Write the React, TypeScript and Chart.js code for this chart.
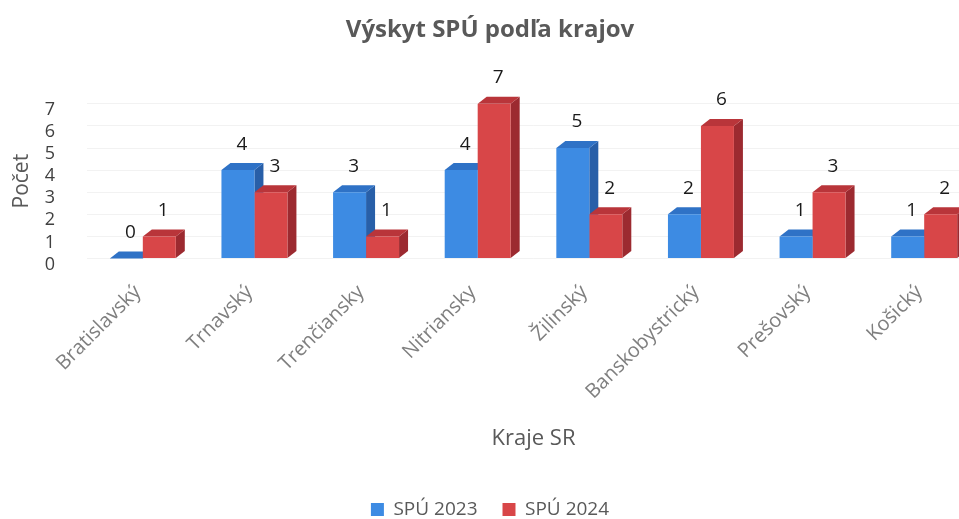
import { useEffect, useRef } from 'react';
import { Chart, registerables } from 'chart.js';

Chart.register(...registerables);

const categories = ['Bratislavský', 'Trnavský', 'Trenčiansky', 'Nitriansky', 'Žilinský', 'Banskobystrický', 'Prešovský', 'Košický'];
const spu2023 = [0, 4, 3, 4, 5, 2, 1, 1];
const spu2024 = [1, 3, 1, 7, 2, 6, 3, 2];
const yTicks = [0, 1, 2, 3, 4, 5, 6, 7];
const seriesNames = ['SPÚ 2023', 'SPÚ 2024'];

const frontColors = ['#3d8be3', '#d84648'];
const topColors = ['#2f72c6', '#b9353a'];
const sideColors = ['#285fa8', '#9c2a30'];

const FONT = '"Open Sans", sans-serif';

const bar3d = {
  id: 'bar3d',
  beforeDatasetsDraw(chart: any) {
    const ctx = chart.ctx;
    const dx = 9;
    const dy = 7;
    ctx.save();
    chart.data.datasets.forEach((_ds: any, di: number) => {
      const meta = chart.getDatasetMeta(di);
      meta.data.forEach((el: any) => {
        const { x, y, base, width } = el.getProps(['x', 'y', 'base', 'width'], true);
        const l = x - width / 2;
        const r = x + width / 2;
        ctx.fillStyle = sideColors[di];
        ctx.beginPath();
        ctx.moveTo(r, y);
        ctx.lineTo(r + dx, y - dy);
        ctx.lineTo(r + dx, base - dy);
        ctx.lineTo(r, base);
        ctx.closePath();
        ctx.fill();
        ctx.fillStyle = topColors[di];
        ctx.beginPath();
        ctx.moveTo(l, y);
        ctx.lineTo(l + dx, y - dy);
        ctx.lineTo(r + dx, y - dy);
        ctx.lineTo(r, y);
        ctx.closePath();
        ctx.fill();
      });
    });
    ctx.restore();
  },
  afterDatasetsDraw(chart: any) {
    const ctx = chart.ctx;
    ctx.save();
    ctx.font = `19px ${FONT}`;
    ctx.fillStyle = '#1a1a1a';
    ctx.textAlign = 'center';
    ctx.textBaseline = 'middle';
    chart.data.datasets.forEach((ds: any, di: number) => {
      const meta = chart.getDatasetMeta(di);
      meta.data.forEach((el: any, i: number) => {
        const { x, y } = el.getProps(['x', 'y'], true);
        ctx.fillText(String(ds.data[i]), x + 4, y - 26);
      });
    });
    ctx.restore();
  },
};

export default function App() {
  const ref = useRef<HTMLCanvasElement | null>(null);

  useEffect(() => {
    if (!ref.current) return;
    Chart.defaults.font.family = FONT;
    const chart = new Chart(ref.current, {
      type: 'bar',
      data: {
        labels: categories,
        datasets: [
          { label: seriesNames[0], data: spu2023, backgroundColor: frontColors[0], borderWidth: 0, categoryPercentage: 0.591, barPercentage: 1.0 },
          { label: seriesNames[1], data: spu2024, backgroundColor: frontColors[1], borderWidth: 0, categoryPercentage: 0.591, barPercentage: 1.0 },
        ],
      },
      options: {
        responsive: false,
        animation: false,
        devicePixelRatio: 1,
        layout: { padding: { left: 0, right: 20, top: 0, bottom: -10 } },
        plugins: {
          title: {
            display: true,
            text: 'Výskyt SPÚ podľa krajov',
            color: '#595959',
            font: { size: 24, weight: 'bold', family: FONT },
            padding: { top: 16, bottom: 59 },
          },
          legend: {
            position: 'bottom',
            labels: {
              color: '#595959',
              font: { size: 19, family: FONT },
              boxWidth: 13,
              boxHeight: 13,
              padding: 25,
            },
          },
          tooltip: { enabled: false },
        },
        scales: {
          x: {
            ticks: { minRotation: 45, maxRotation: 45, autoSkip: false, padding: 22, labelOffset: -5, color: '#7f7f7f', font: { size: 20, family: FONT } },
            grid: { display: false, drawTicks: false },
            border: { display: false },
            title: { display: true, text: 'Kraje SR', color: '#595959', font: { size: 22, family: FONT }, padding: { top: 0, bottom: 23 } },
            afterFit: (s: any) => { s.height = 216.5; },
          },
          y: {
            min: 0,
            max: 7,
            afterBuildTicks: (s: any) => { s.ticks = yTicks.map((v) => ({ value: v })); },
            ticks: { autoSkip: false, padding: 32, labelOffset: 6, color: '#404040', font: { size: 18, family: FONT } },
            grid: { color: 'rgba(0,0,0,0.05)', drawTicks: false },
            border: { display: false },
            title: { display: true, text: 'Počet', color: '#595959', font: { size: 21, family: FONT }, padding: { top: 9, bottom: 0 } },
            afterFit: (s: any) => { s.width = 87; },
          },
        },
      },
      plugins: [bar3d],
    });
    return () => chart.destroy();
  }, []);

  return (
    <div style={{ position: 'fixed', left: 0, top: 0, width: 959, height: 519, overflow: 'hidden', background: '#fff' }}>
      <canvas ref={ref} width={1000} height={519} style={{ display: 'block' }} />
    </div>
  );
}
